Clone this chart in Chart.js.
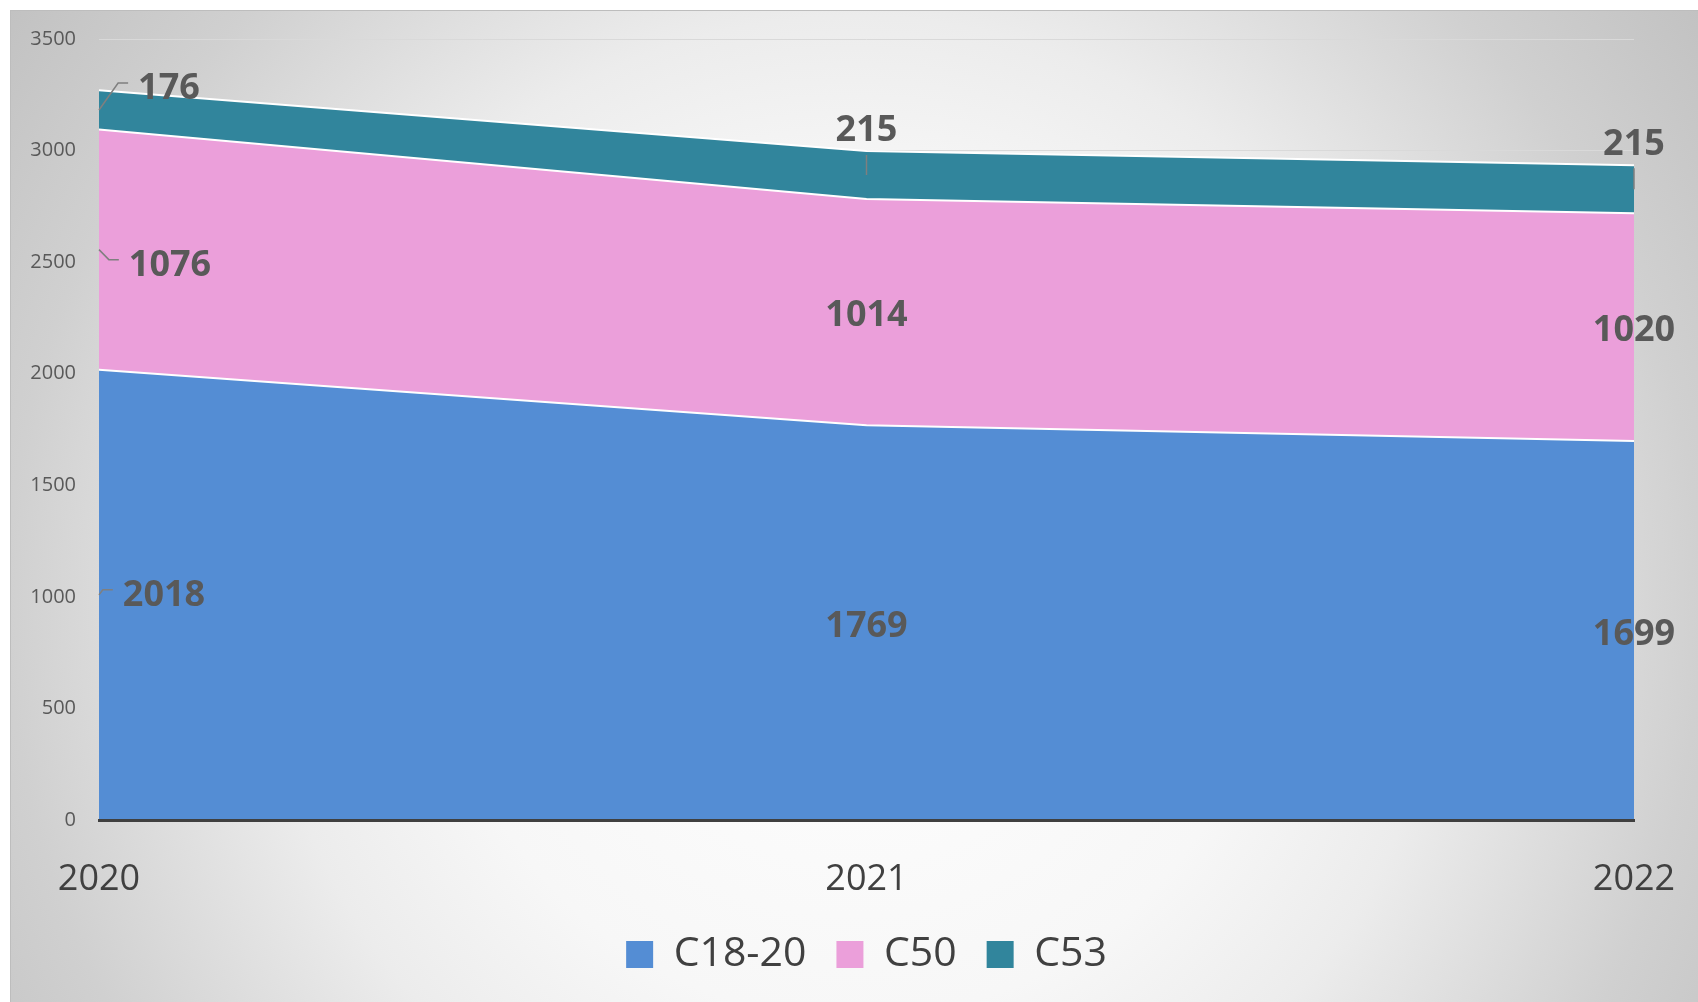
<!DOCTYPE html>
<html>
<head>
<meta charset="utf-8">
<script src="https://cdn.jsdelivr.net/npm/chart.js@4.4.0/dist/chart.umd.min.js"></script>
<style>
  body { margin: 0; background: #fff; }
  .chart-box {
    position: absolute; left: 10px; top: 10px; width: 1688px; height: 992px;
    background: radial-gradient(circle farthest-corner at 50% 60%, #ffffff 0%, #f7f7f7 40%, #ececec 57%, #d0d0d0 82%, #c2c2c2 100%);
    box-shadow: inset 1px 1px 0 #bdbdbd;
  }
  .chart-box canvas { position: absolute; left: 0; top: 0; }
</style>
</head>
<body>
<div class="chart-box">
  <canvas id="area-chart" width="1688" height="992"></canvas>
</div>
<script>
var years = ["2020", "2021", "2022"];
var c1820 = [2018, 1769, 1699];
var c50 = [1076, 1014, 1020];
var c53 = [176, 215, 215];
var yMin = 0, yMax = 3500, yStep = 500;

// label moves (px) away from the middle of each band, per series / year
var labelShift = [
    [[65, -3], [0, 0], [0, 0]],
    [[71, 12], [0, 0], [0, 0]],
    [[70, -25], [0, -48], [0, -49]]
];

var fontName = '"Open Sans", "Noto Sans", sans-serif';

// data labels with leader lines
var bandLabels = {
    id: 'bandLabels',
    afterDatasetsDraw: function(chart) {
        var ctx = chart.ctx;
        var yScale = chart.scales.y;
        ctx.save();
        ctx.font = 'bold 36px ' + fontName;
        ctx.textAlign = 'center';
        ctx.textBaseline = 'middle';
        chart.data.datasets.forEach(function(ds, i) {
            var meta = chart.getDatasetMeta(i);
            meta.data.forEach(function(pt, j) {
                var base = i === 0 ? yScale.getPixelForValue(0) : chart.getDatasetMeta(i - 1).data[j].y;
                var ax = pt.x, ay = (pt.y + base) / 2;
                var dx = labelShift[i][j][0], dy = labelShift[i][j][1];
                var tx = ax + dx, ty = ay + dy;
                var text = String(ds.data[j]);
                var w = ctx.measureText(text).width;
                ctx.strokeStyle = '#7f7f7f';
                ctx.lineWidth = 1.5;
                if (dx !== 0) {
                    var left = tx - w / 2;
                    ctx.beginPath();
                    ctx.moveTo(ax, ay);
                    ctx.lineTo(left - 20, ty - 2);
                    ctx.lineTo(left - 10, ty - 2);
                    ctx.stroke();
                } else if (dy !== 0) {
                    ctx.beginPath();
                    ctx.moveTo(ax, ay);
                    ctx.lineTo(ax, ty + 28);
                    ctx.stroke();
                }
                ctx.fillStyle = '#595959';
                // digits sit a bit below the em-box middle
                ctx.fillText(text, tx, ty + 4);
            });
        });
        ctx.restore();
    }
};

// keep the legend centred under the plot area
var legendUnderPlot = {
    id: 'legendUnderPlot',
    beforeDraw: function(chart) {
        if (chart.legend) {
            chart.legend.left = chart.chartArea.left;
            chart.legend.right = chart.chartArea.right;
        }
    }
};

var ac = document.getElementById("area-chart").getContext('2d');
var areaChart = new Chart(ac, {
    type: 'line',
    data: {
        labels: years,
        datasets: [{
            label: 'C18-20',
            data: c1820,
            backgroundColor: '#548DD4',
            borderColor: '#ffffff',
            borderWidth: 2,
            fill: 'origin',
            pointRadius: 0,
            tension: 0
        }, {
            label: 'C50',
            data: c50,
            backgroundColor: '#EB9FDA',
            borderColor: '#ffffff',
            borderWidth: 2,
            fill: '-1',
            pointRadius: 0,
            tension: 0
        }, {
            label: 'C53',
            data: c53,
            backgroundColor: '#31859C',
            borderColor: '#ffffff',
            borderWidth: 2,
            fill: '-1',
            pointRadius: 0,
            tension: 0
        }]
    },
    options: {
        responsive: false,
        animation: false,
        layout: { padding: { top: 29, right: 64, bottom: 17, left: 0 } },
        plugins: {
            tooltip: { enabled: false },
            legend: {
                position: 'bottom',
                labels: {
                    font: { family: fontName, size: 41 },
                    color: '#404040',
                    boxWidth: 27,
                    boxHeight: 27,
                    padding: 30,
                    generateLabels: function(chart) {
                        var items = Chart.defaults.plugins.legend.labels.generateLabels(chart);
                        items.forEach(function(it) { it.lineWidth = 0; });
                        return items;
                    }
                }
            }
        },
        scales: {
            x: {
                offset: false,
                // invisible tick marks push the year labels down without widening the layout
                grid: { display: true, drawOnChartArea: false, drawTicks: true, tickLength: 38, tickColor: 'rgba(0,0,0,0)' },
                border: { color: '#404040', width: 3, z: 1 },
                ticks: { font: { family: fontName, size: 36 }, color: '#404040', padding: 0, maxRotation: 0 },
                afterFit: function(s) { s.height = 84; }
            },
            y: {
                stacked: true,
                min: yMin,
                max: yMax,
                grid: { color: '#d9d9d9', drawTicks: true, tickLength: 23, tickColor: 'rgba(0,0,0,0)' },
                border: { display: false },
                ticks: {
                    stepSize: yStep,
                    font: { family: fontName, size: 20 },
                    color: '#595959',
                    padding: 0,
                    callback: function(v) { return String(v); }
                },
                afterFit: function(s) { s.width = 89; }
            }
        }
    },
    plugins: [bandLabels, legendUnderPlot]
});
</script>
</body>
</html>
